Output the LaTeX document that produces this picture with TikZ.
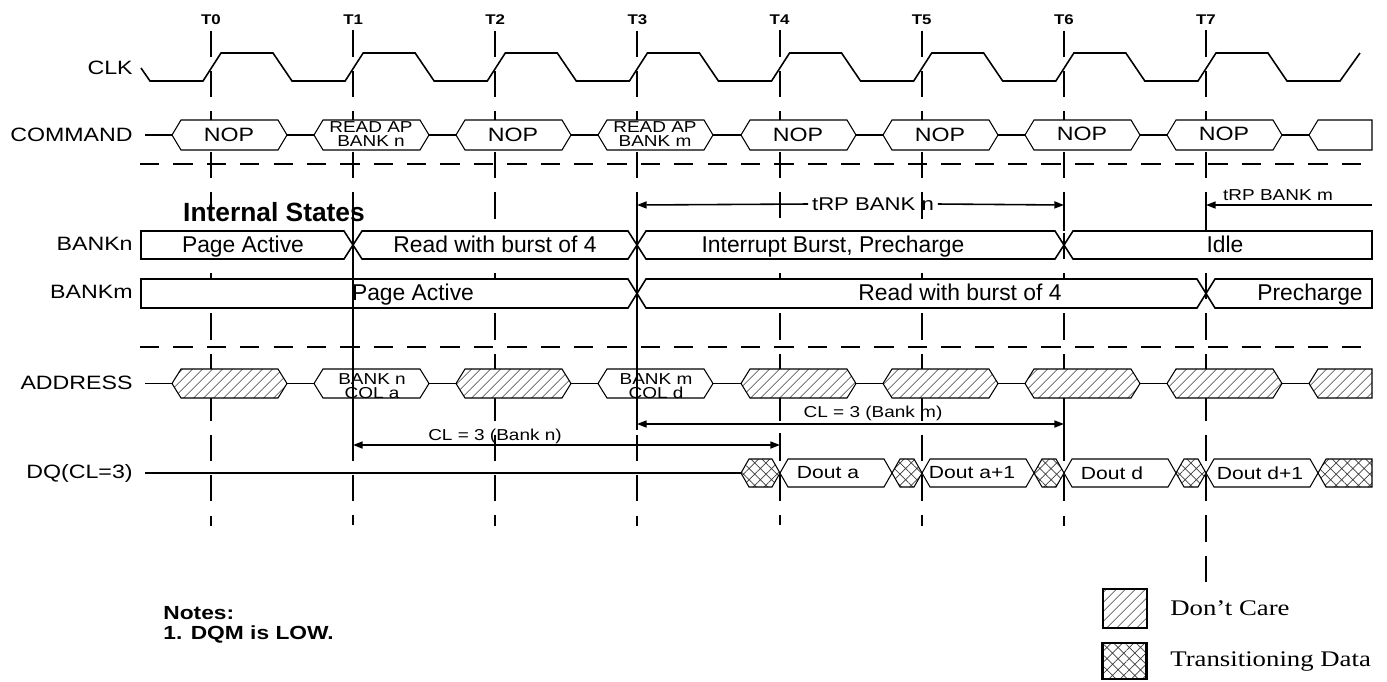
\documentclass[tikz,border=0pt]{standalone}
\usepackage{fontspec}
\setmainfont{Liberation Sans}[FakeStretch=1.2]
\newfontfamily\statefont{Liberation Sans}
\newfontfamily\legendfont{Liberation Serif}[FakeStretch=1.2]
\usepackage{tikz}
\usetikzlibrary{arrows.meta,patterns.meta,calc}
\newcommand{\Bus}[7][]{%
  \draw[#1] (#2,#4) -- ({#2+#6},{#4-#5}) -- ({#3-#7},{#4-#5}) -- (#3,#4) -- ({#3-#7},{#4+#5}) -- ({#2+#6},{#4+#5}) -- cycle;}

\begin{document}
\begin{tikzpicture}[x=0.02cm, y=-0.02cm,
    >={Triangle[length=5.5pt,width=4pt]},
    sig/.style={line width=0.9pt},
    bus/.style={draw, line width=0.6pt, fill=white},
    dontcare/.style={draw, line width=0.6pt, preaction={fill=white}, pattern={Lines[angle=45,distance=4pt,line width=0.4pt]}, pattern color=black!75},
    trans/.style={draw, line width=0.6pt, preaction={fill=white}, pattern={Hatch[angle=45,distance=4.5pt,line width=0.4pt]}, pattern color=black!75},
    state/.style={draw, line width=0.9pt, fill=white},
    tick/.style={line width=1.1pt, dash pattern=on 15pt off 8pt},
    solidtick/.style={line width=1.1pt},
    sep/.style={line width=1.5pt, dash pattern=on 11pt off 8pt},
    dim/.style={line width=0.9pt},
    lab/.style={anchor=east, inner sep=0pt, font=\fontsize{11}{13}\selectfont},
    tlab/.style={inner sep=0pt, font=\bfseries\fontsize{8}{9}\selectfont},
    cmd/.style={inner sep=0pt, font=\fontsize{11}{13}\selectfont},
    small/.style={inner sep=0pt, align=center, font=\fontsize{9}{7.6}\selectfont},
    stxt/.style={anchor=base, inner sep=0pt, font=\statefont\fontsize{13}{15}\selectfont},
    dimlab/.style={inner sep=2pt, font=\fontsize{9}{11}\selectfont},
    dout/.style={inner sep=0pt, font=\fontsize{10}{12}\selectfont},
    keytxt/.style={anchor=west, inner sep=0pt, font=\legendfont\fontsize{12.7}{15}\selectfont}
]
\useasboundingbox (0,0) rectangle (1387,681);

\foreach \k in {0,...,7} \node[tlab] (t\k) at ({211+142.14*\k},20) {T\k};
\foreach \k in {0,...,6} \draw[tick] ([yshift=-3pt]t\k.south) -- ++(0,495);
\draw[tick] ([yshift=-3pt]t7.south) -- ++(0,565);

\draw[sep] (140,164) -- (1372,164);
\draw[sep] (140,347) -- (1372,347);

\draw[sig] (141,68) -- (150,81)
  \foreach \k in {0,...,7} {-- ({211+142.14*\k-8},81) -- ({211+142.14*\k+10},53) -- ({211+142.14*\k+62},53) -- ({211+142.14*\k+81},81)}
  -- (1340,81) -- (1360,53);

\draw[sig] (145,135) -- (1309,135);
\Bus[bus]{172}{287}{135}{15}{9}{9}
\Bus[bus]{314}{429}{135}{15}{9}{9}
\Bus[bus]{456}{571}{135}{15}{9}{9}
\Bus[bus]{598}{713}{135}{15}{9}{9}
\Bus[bus]{741}{856}{135}{15}{9}{9}
\Bus[bus]{883}{998}{135}{15}{9}{9}
\Bus[bus]{1025}{1140}{135}{15}{9}{9}
\Bus[bus]{1167}{1282}{135}{15}{9}{9}
\Bus[bus]{1309}{1372}{135}{15}{9}{0}

\Bus[state]{141}{353}{245}{14}{0}{9}
\Bus[state]{353}{637}{245}{14}{9}{9}
\Bus[state]{637}{1064}{245}{14}{9}{9}
\Bus[state]{1064}{1372}{245}{14}{9}{0}
\Bus[state]{141}{637}{293.5}{14.5}{0}{9}
\Bus[state]{637}{1206}{293.5}{14.5}{9}{9}
\Bus[state]{1206}{1372}{293.5}{14.5}{9}{0}

\draw[sig] (145,383.5) -- (1309,383.5);
\Bus[dontcare]{172}{287}{383.5}{14.5}{9}{9}
\Bus[bus]{314}{429}{383.5}{14.5}{9}{9}
\Bus[dontcare]{456}{571}{383.5}{14.5}{9}{9}
\Bus[bus]{598}{713}{383.5}{14.5}{9}{9}
\Bus[dontcare]{741}{856}{383.5}{14.5}{9}{9}
\Bus[dontcare]{883}{998}{383.5}{14.5}{9}{9}
\Bus[dontcare]{1025}{1140}{383.5}{14.5}{9}{9}
\Bus[dontcare]{1167}{1282}{383.5}{14.5}{9}{9}
\Bus[dontcare]{1309}{1372}{383.5}{14.5}{9}{0}

\draw[sig] (145,473) -- (741,473);
\Bus[trans]{741}{780}{473}{14}{8}{8}
\Bus[bus]{780}{892}{473}{14}{8}{8}
\Bus[trans]{892}{922}{473}{14}{8}{8}
\Bus[bus]{922}{1034}{473}{14}{8}{8}
\Bus[trans]{1034}{1064}{473}{14}{8}{8}
\Bus[bus]{1064}{1176}{473}{14}{8}{8}
\Bus[trans]{1176}{1206}{473}{14}{8}{8}
\Bus[bus]{1206}{1318}{473}{14}{8}{8}
\Bus[trans]{1318}{1372}{473}{14}{8}{0}

\draw[solidtick] (353,212) -- (353,453);
\draw[solidtick] (637,200) -- (637,430);
\draw[solidtick] (780,433) -- (780,459);
\draw[solidtick] (1064,200) -- (1064,231);
\draw[solidtick] (1064,398) -- (1064,459);
\draw[solidtick] (1206,200) -- (1206,231);

\node[lab] (clk) at (133,68) {CLK};
\node[lab] (command) at (133,135) {COMMAND};
\node[lab] (bankn) at (133,244) {BANKn};
\node[lab] (bankm) at (133,292) {BANKm};
\node[lab] (address) at (133,383) {ADDRESS};
\node[lab] (dq) at (133,473) {DQ(CL=3)};

\node[cmd] (nop0) at (229,135) {NOP};
\node[small] (rdn) at (371,134) {READ AP\\BANK n};
\node[cmd] (nop2) at (513,135) {NOP};
\node[small] (rdm) at (655,134) {READ AP\\BANK m};
\node[cmd] (nop4) at (798,135) {NOP};
\node[cmd] (nop5) at (940,135) {NOP};
\node[cmd] (nop6) at (1082,134) {NOP};
\node[cmd] (nop7) at (1224,134) {NOP};

\node[inner sep=0pt, font=\statefont\bfseries\fontsize{15}{17}\selectfont] (internal) at (274,212) {Internal States};
\node[stxt] (nactive) at (243,252) {Page Active};
\node[stxt] (nread) at (495,252) {Read with burst of 4};
\node[stxt] (nintr) at (833,252) {Interrupt Burst, Precharge};
\node[stxt] (nidle) at (1225,252) {Idle};
\node[stxt] (mactive) at (413,300) {Page Active};
\node[stxt] (mread) at (960,300) {Read with burst of 4};
\node[stxt] (mpre) at (1310,300) {Precharge};

\node[small] (coln) at (372,386) {BANK n\\COL a};
\node[small] (colm) at (656,386) {BANK m\\COL d};

\node[dout] (douta) at (828,473) {Dout a};
\node[dout] (doutb) at (972,473) {Dout a+1};
\node[dout] (doutd) at (1112,473) {Dout d};
\node[dout] (doute) at (1260,473) {Dout d+1};

\coordinate (trp3) at (637,205);
\coordinate (trp6) at (1064,205);
\coordinate (trp7) at (1206,205);
\coordinate (trpend) at (1372,205);
\node[dimlab, font=\fontsize{10.5}{12}\selectfont] (trpn) at (873,204) {tRP BANK n};
\draw[dim,->] (trpn.west) -- (trp3);
\draw[dim,->] (trpn.east) -- (trp6);
\draw[dim,->] (trpend) -- (trp7);
\node[dimlab, inner sep=0pt] (trpm) at (1278,195) {tRP BANK m};

\coordinate (cln1) at (353,445);
\coordinate (cln4) at (780,445);
\coordinate (clm3) at (637,424);
\coordinate (clm6) at (1064,424);
\draw[dim,<->] (cln1) -- (cln4);
\draw[dim,<->] (clm3) -- (clm6);
\node[dimlab, inner sep=0pt] (cln) at (495,436) {CL = 3 (Bank n)};
\node[dimlab, inner sep=0pt] (clm) at (873,413) {CL = 3 (Bank m)};

\node[anchor=west, align=left, inner sep=0pt, font=\bfseries\fontsize{10.8}{11.4}\selectfont] (notes) at (163,625) {Notes:\\1. DQM is LOW.};

\node[dontcare, line width=1.2pt, minimum width=25pt, minimum height=22pt, inner sep=0pt] (dcbox) at (1125,608.5) {};
\node[keytxt] (dc) at (1170,608) {Don’t Care};
\node[trans, line width=1.2pt, minimum width=25pt, minimum height=20.5pt, inner sep=0pt] (tdbox) at (1124.5,661) {};
\node[keytxt] (td) at (1170,662) {Transitioning Data};
\end{tikzpicture}
\end{document}
